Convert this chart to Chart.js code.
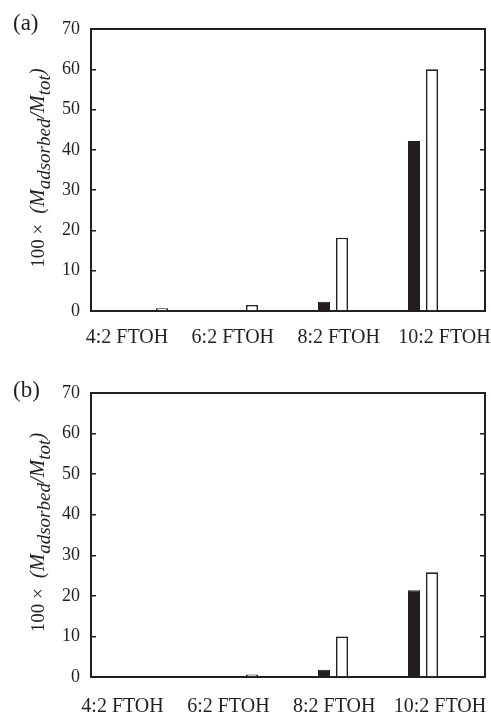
<!DOCTYPE html>
<html><head><meta charset="utf-8">
<script src="https://cdn.jsdelivr.net/npm/chart.js@4/dist/chart.umd.min.js"></script>
<style>html,body{margin:0;padding:0;background:#fff;} canvas{display:block;}</style>
</head><body>
<canvas id="ca" width="491" height="359"></canvas>
<canvas id="cb" width="491" height="358"></canvas>
<script>
// ---- data ----
const categories = ['4:2 FTOH', '6:2 FTOH', '8:2 FTOH', '10:2 FTOH'];
const categoryIndex = [1, 2, 3, 4];
const panelA_black = [0, 0, 2.3, 42.2];
const panelA_white = [0.7, 1.5, 18.2, 60.0];
const panelB_black = [0, 0, 1.8, 21.4];
const panelB_white = [0, 0.6, 10.0, 25.8];
const yMin = 0, yMax = 70, yStep = 10;

const ink = '#231f20';
const serif = '"Liberation Serif", "Times New Roman", serif';
Chart.defaults.font.family = serif;
Chart.defaults.color = ink;

const yTitlePlugin = {
  id: 'yTitle',
  afterDraw(chart, args, opts) {
    const ctx = chart.ctx, ca = chart.chartArea;
    const parts = [
      {text: '100 \u00d7', font: '19px ' + serif, gap: 10},
      {text: '(', font: 'italic 21px ' + serif},
      {text: 'M', font: 'italic 21px ' + serif},
      {text: 'adsorbed', font: 'italic 19px ' + serif, sub: true},
      {text: '/', font: 'italic 21px ' + serif},
      {text: 'M', font: 'italic 21px ' + serif},
      {text: 'tot', font: 'italic 19px ' + serif, sub: true},
      {text: ')', font: 'italic 21px ' + serif}
    ];
    ctx.save();
    let total = 0;
    parts.forEach(p => { ctx.font = p.font; p.w = ctx.measureText(p.text).width; total += p.w + (p.gap || 0); });
    ctx.translate(opts.x, (ca.top + ca.bottom) / 2 + opts.dy);
    ctx.rotate(-Math.PI / 2);
    ctx.fillStyle = ink;
    ctx.textBaseline = 'alphabetic';
    ctx.textAlign = 'left';
    let x = -total / 2;
    parts.forEach(p => {
      ctx.font = p.font;
      ctx.fillText(p.text, x, p.sub ? opts.sub : 0);
      x += p.w + (p.gap || 0);
    });
    ctx.restore();
  }
};

function makeChart(id, label, black, white, lay) {
  const frame = {display: true, color: ink, width: 2};
  const inwardTicks = {display: true, drawOnChartArea: false, drawTicks: true, tickLength: -5, color: ink, lineWidth: 1.5};
  return new Chart(document.getElementById(id), {
    type: 'bar',
    data: {
      datasets: [
        {
          data: categoryIndex.map((c, i) => ({x: c, y: black[i]})),
          backgroundColor: ink, borderColor: ink, borderWidth: 1,
          categoryPercentage: 0.4, barPercentage: 0.667
        },
        {
          data: categoryIndex.map((c, i) => ({x: c, y: white[i]})),
          backgroundColor: '#ffffff', borderColor: ink, borderWidth: 1.6,
          categoryPercentage: 0.4, barPercentage: 0.667
        }
      ]
    },
    options: {
      responsive: false,
      animation: false,
      devicePixelRatio: 1,
      layout: {padding: {left: 13, right: 6, top: 0, bottom: 0}},
      plugins: {
        legend: {display: false},
        tooltip: {enabled: false},
        title: {
          display: true, text: label, align: 'start', color: ink,
          font: {size: 23, weight: 'normal', family: serif, lineHeight: 1.2},
          padding: lay.titlePad
        },
        yTitle: {x: 44, dy: lay.titleDy, sub: 6}
      },
      scales: {
        x: {
          type: 'linear', display: false, offset: false, min: 0.311, max: 4.689,
          grid: {offset: false},
          afterBuildTicks: s => { s.ticks = categoryIndex.map(v => ({value: v})); }
        },
        xl: {
          type: 'linear', position: 'bottom', offset: false, min: lay.labMin, max: lay.labMax,
          grid: {display: false, drawTicks: false, offset: false},
          border: frame,
          ticks: {
            font: {size: 20, family: serif}, color: ink, padding: lay.labPad, maxRotation: 0, autoSkip: false,
            callback: (v) => { const i = categoryIndex.indexOf(v); return i >= 0 ? categories[i] : ''; }
          },
          afterBuildTicks: s => { s.ticks = categoryIndex.map(v => ({value: v})); },
          afterFit: s => { s.height = lay.labHeight; s.paddingLeft = 0; s.paddingRight = 0; }
        },
        x2: {
          type: 'linear', position: 'top', offset: false, min: 0, max: 1,
          grid: {display: true, drawOnChartArea: false, drawTicks: false, offset: false},
          border: frame,
          ticks: {display: false},
          afterFit: s => { s.height = 0; }
        },
        y: {
          type: 'linear', position: 'left', min: yMin, max: yMax,
          grid: inwardTicks,
          border: frame,
          ticks: {stepSize: yStep, font: {size: 18, family: serif}, color: ink, padding: 16},
          afterFit: s => { s.width = 78; }
        },
        y2: {
          type: 'linear', position: 'right', min: yMin, max: yMax,
          grid: inwardTicks,
          border: frame,
          ticks: {stepSize: yStep, display: false},
          afterFit: s => { s.width = 0; }
        }
      }
    },
    plugins: [yTitlePlugin]
  });
}

makeChart('ca', '(a)', panelA_black, panelA_white,
  {titlePad: {top: 10.2, bottom: -8.8}, labMin: 0.660, labMax: 4.383, labPad: 15, labHeight: 48, titleDy: -2});
makeChart('cb', '(b)', panelB_black, panelB_white,
  {titlePad: {top: 17.7, bottom: -11.3}, labMin: 0.702, labMax: 4.425, labPad: 18, labHeight: 40, titleDy: -2.5});
</script>
</body></html>
